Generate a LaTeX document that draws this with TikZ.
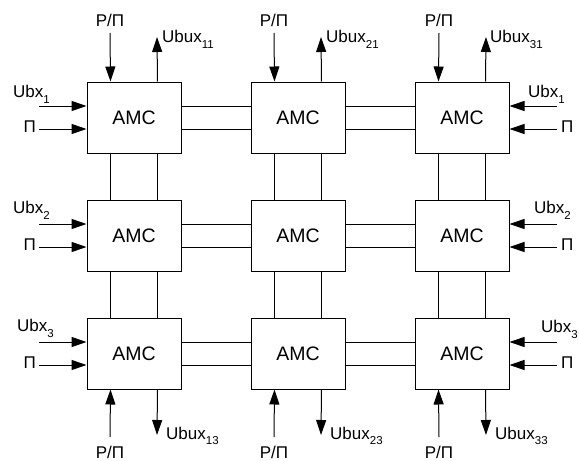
\documentclass[tikz,border=0pt]{standalone}
\usepackage{fontspec}
\setmainfont{Liberation Sans}
\usetikzlibrary{arrows.meta,calc}
\newcommand{\subx}[1]{\raisebox{-5.5pt}{\fontsize{11.5}{11.5}\selectfont #1}}
\begin{document}
\begin{tikzpicture}[x=1pt,y=-1pt,
  amc/.style={draw,line width=1pt,minimum width=94pt,minimum height=71pt,inner sep=0pt,font=\fontsize{19.5}{22}\selectfont},
  conn/.style={line width=1pt},
  arr/.style={line width=1pt,-{Triangle[length=15pt,width=10pt]}},
  lbl/.style={inner sep=0pt,font=\fontsize{17}{19}\selectfont}]
\useasboundingbox (0,0) rectangle (579,461);
% boxes
\foreach \c/\x in {1/134,2/298,3/462}{
  \foreach \r/\y in {1/117.5,2/235.5,3/353.5}{
    \node[amc] (b\c\r) at (\x,\y) {АМС};
  }
}
% horizontal connectors
\foreach \r in {1,2,3}{
  \foreach \a/\b in {1/2,2/3}{
    \draw[conn] ([yshift=11.5pt]b\a\r.east) -- ([yshift=11.5pt]b\b\r.west);
    \draw[conn] ([yshift=-11.5pt]b\a\r.east) -- ([yshift=-11.5pt]b\b\r.west);
  }
}
% vertical connectors
\foreach \c in {1,2,3}{
  \foreach \a/\b in {1/2,2/3}{
    \draw[conn] ([xshift=-23.5pt]b\c\a.south) -- ([xshift=-23.5pt]b\c\b.north);
    \draw[conn] ([xshift=23.5pt]b\c\a.south) -- ([xshift=23.5pt]b\c\b.north);
  }
}
% top and bottom arrows
\foreach \c/\x in {1/110,2/274,3/439}{
  \coordinate (tp\c) at (\x,33);
  \coordinate (tu\c) at (\x+47,37);
  \coordinate (bp\c) at (\x,437);
  \coordinate (bu\c) at (\x+47,435);
  \draw[arr] (tp\c) -- ([xshift=-23.5pt]b\c1.north);
  \draw[arr] ([xshift=23.5pt]b\c1.north) -- (tu\c);
  \draw[arr] (bp\c) -- ([xshift=-23.5pt]b\c3.south);
  \draw[arr] ([xshift=23.5pt]b\c3.south) -- (bu\c);
  \node[lbl,anchor=base] (ltp\c) at (\x,26.5) {Р/П};
  \node[lbl,anchor=base] (lbp\c) at (\x,458) {Р/П};
}
\node[lbl,anchor=base west] (lu11) at (162,42.5) {Ubux\subx{11}};
\node[lbl,anchor=base west] (lu21) at (326,42.5) {Ubux\subx{21}};
\node[lbl,anchor=base west] (lu31) at (490,42.5) {Ubux\subx{31}};
\node[lbl,anchor=base west] (lu13) at (166,439) {Ubux\subx{13}};
\node[lbl,anchor=base west] (lu23) at (330,439) {Ubux\subx{23}};
\node[lbl,anchor=base west] (lu33) at (495,439) {Ubux\subx{33}};
% left and right inputs
\foreach \r in {1,2,3}{
  \draw[arr] ([yshift=11.5pt]b1\r.west -| 39,0) -- ([yshift=11.5pt]b1\r.west);
  \draw[arr] ([yshift=-11.5pt]b1\r.west -| 39,0) -- ([yshift=-11.5pt]b1\r.west);
  \draw[arr] ([yshift=11.5pt]b3\r.east -| 557,0) -- ([yshift=11.5pt]b3\r.east);
  \draw[arr] ([yshift=-11.5pt]b3\r.east -| 557,0) -- ([yshift=-11.5pt]b3\r.east);
  \node[lbl,anchor=east] (lp\r) at ([yshift=-9.5pt]b1\r.west -| 36,0) {П};
  \node[lbl,anchor=west] (rp\r) at ([yshift=-9.5pt]b3\r.east -| 561,0) {П};
}
\node[lbl,anchor=base west] (lx1) at (13,97.5) {Ubx\subx{1}};
\node[lbl,anchor=base west] (lx2) at (13,213.5) {Ubx\subx{2}};
\node[lbl,anchor=base west] (lx3) at (17,331.5) {Ubx\subx{3}};
\node[lbl,anchor=base west] (rx1) at (528,97.5) {Ubx\subx{1}};
\node[lbl,anchor=base west] (rx2) at (534,213.5) {Ubx\subx{2}};
\node[lbl,anchor=base west] (rx3) at (541,332.5) {Ubx\subx{3}};
\end{tikzpicture}
\end{document}
